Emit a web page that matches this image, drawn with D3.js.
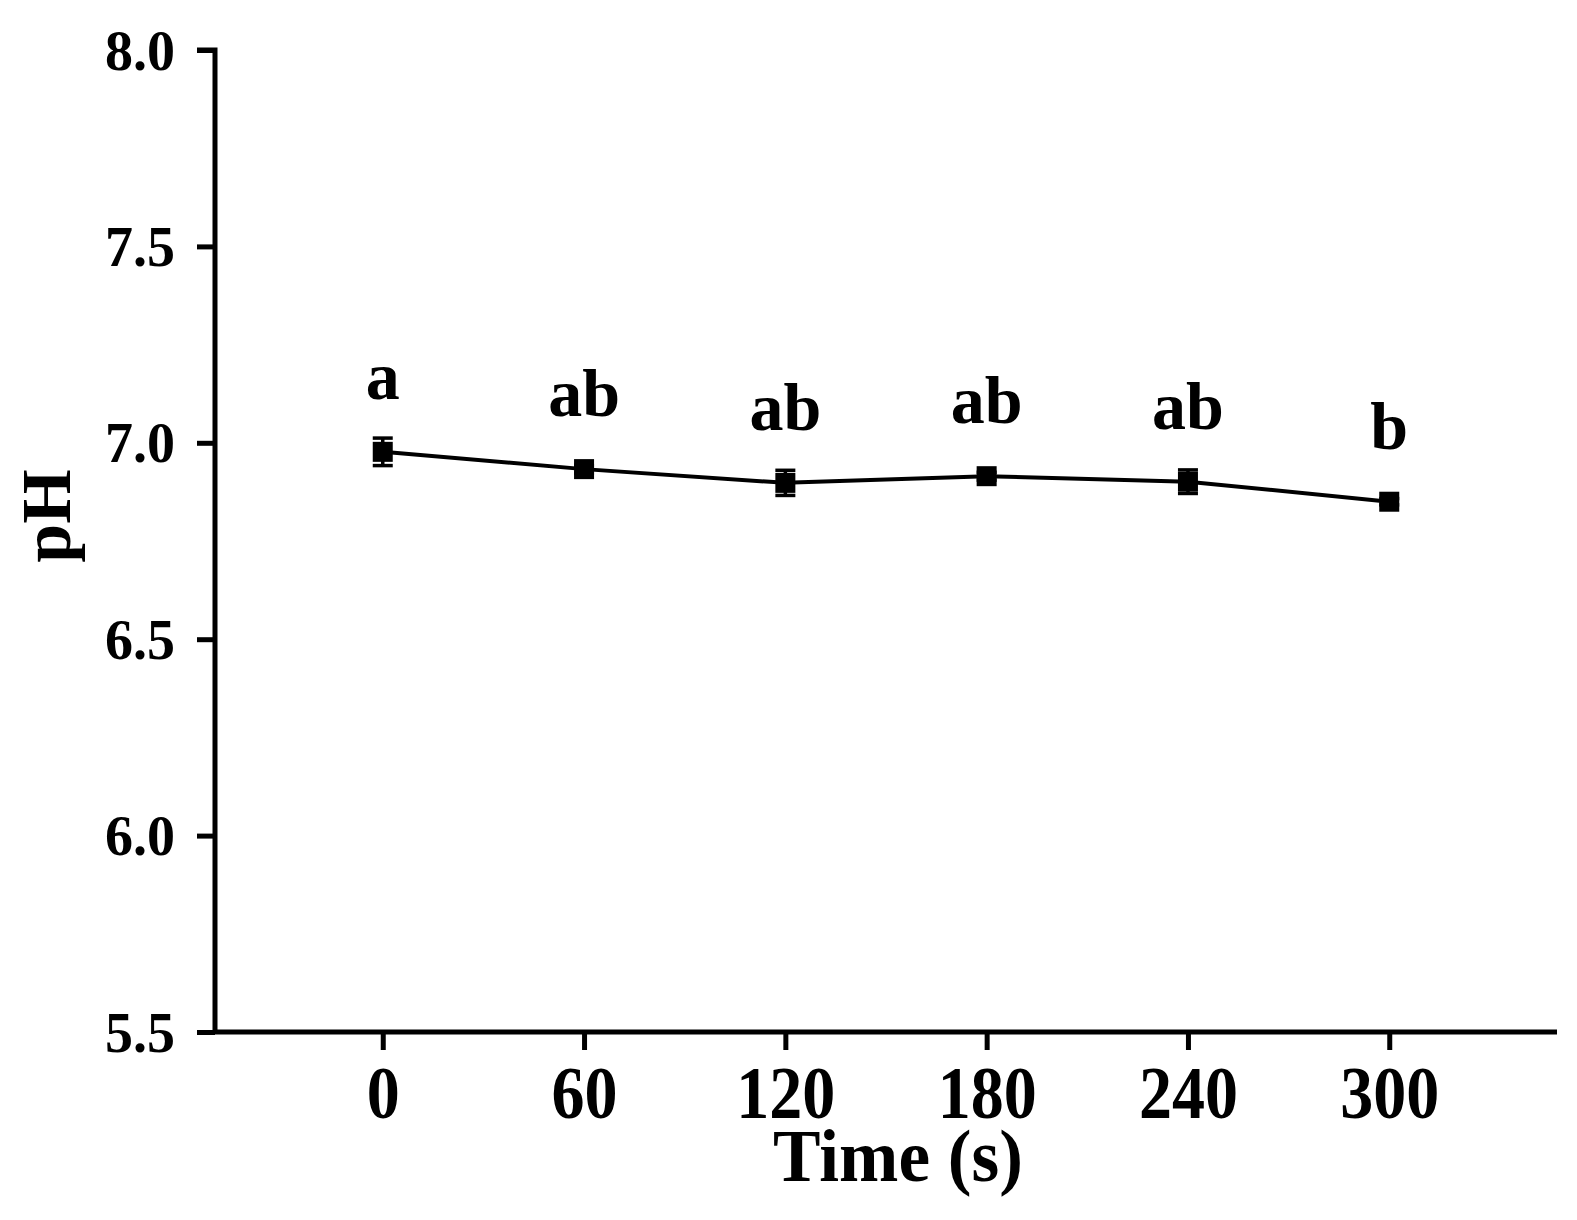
<!DOCTYPE html>
<html>
<head>
<meta charset="utf-8">
<script src="https://cdn.jsdelivr.net/npm/d3@7"></script>
<style>
  html, body { margin: 0; padding: 0; background: #fff; }
  svg { display: block; }
  text { font-family: "Liberation Serif", "Times New Roman", serif; font-weight: bold; fill: #000; }
</style>
</head>
<body>
<svg id="chart" width="1577" height="1220"></svg>
<script>
// Data
const times = [0, 60, 120, 180, 240, 300];
const phValues = [6.977, 6.933, 6.898, 6.915, 6.901, 6.850];
const phErrors = [0.035, 0.010, 0.032, 0.010, 0.030, 0.008];
const sigLetters = ["a", "ab", "ab", "ab", "ab", "b"];
const xTicks = [0, 60, 120, 180, 240, 300];
const yTicks = [5.5, 6.0, 6.5, 7.0, 7.5, 8.0];

(function () {
const svg = d3.select("#chart");
const mLeft = 215, mRight = 1557, mTop = 50, mBottom = 1032;

const x = d3.scaleLinear().domain([-50, 350]).range([mLeft, mRight]);
const y = d3.scaleLinear().domain([5.5, 8.0]).range([mBottom, mTop]);

// Axes
const yAxis = d3.axisLeft(y).tickValues(yTicks).tickFormat(d3.format(".1f")).tickSize(18).tickPadding(22);
const gy = svg.append("g").attr("transform", `translate(${mLeft},0)`).call(yAxis);
gy.select(".domain").attr("stroke", "#000").attr("stroke-width", 5).attr("d", `M-18,${mTop}H0V${mBottom}`);
gy.selectAll(".tick line").attr("stroke", "#000").attr("stroke-width", 5);
gy.selectAll(".tick text").style("font-size", "56px").attr("dy", "0.34em");

const xAxis = d3.axisBottom(x).tickValues(xTicks).tickFormat(d3.format("d")).tickSize(18).tickPadding(12);
const gx = svg.append("g").attr("transform", `translate(0,${mBottom})`).call(xAxis);
gx.select(".domain").attr("stroke", "#000").attr("stroke-width", 5).attr("d", `M${mLeft},0H${mRight}`);
gx.selectAll(".tick line").attr("stroke", "#000").attr("stroke-width", 5);
gx.selectAll(".tick text")
  .style("font-size", "75px")
  .attr("y", 0).attr("dy", 0)
  .attr("transform", "translate(0,86) scale(0.88,1)");

// Axis titles
svg.append("text")
  .attr("transform", "translate(898,1181) scale(0.95,1)")
  .attr("text-anchor", "middle")
  .style("font-size", "75px")
  .text("Time (s)");

svg.append("text")
  .attr("transform", "translate(70,516) rotate(-90)")
  .attr("text-anchor", "middle")
  .style("font-size", "70px")
  .text("pH");

const data = times.map((t, i) => ({ t, v: phValues[i], e: phErrors[i], s: sigLetters[i] }));

// Line
svg.append("path")
  .datum(data)
  .attr("fill", "none")
  .attr("stroke", "#000")
  .attr("stroke-width", 4)
  .attr("d", d3.line().x(d => x(d.t)).y(d => y(d.v)));

// Error bars
const eb = svg.append("g").attr("stroke", "#000").attr("stroke-width", 3.5);
data.forEach(d => {
  const cx = x(d.t), y1 = y(d.v + d.e), y2 = y(d.v - d.e);
  eb.append("line").attr("x1", cx).attr("x2", cx).attr("y1", y1).attr("y2", y2);
  eb.append("line").attr("x1", cx - 10).attr("x2", cx + 10).attr("y1", y1).attr("y2", y1);
  eb.append("line").attr("x1", cx - 10).attr("x2", cx + 10).attr("y1", y2).attr("y2", y2);
});

// Markers
const ms = 20;
svg.append("g").selectAll("rect").data(data).join("rect")
  .attr("x", d => x(d.t) - ms / 2)
  .attr("y", d => y(d.v) - ms / 2)
  .attr("width", ms).attr("height", ms)
  .attr("fill", "#000");

// Significance letters
svg.append("g").selectAll("text").data(data).join("text")
  .attr("x", d => x(d.t))
  .attr("y", d => y(d.v) - 53)
  .attr("text-anchor", "middle")
  .style("font-size", "68px")
  .text(d => d.s);
})();
</script>
</body>
</html>
